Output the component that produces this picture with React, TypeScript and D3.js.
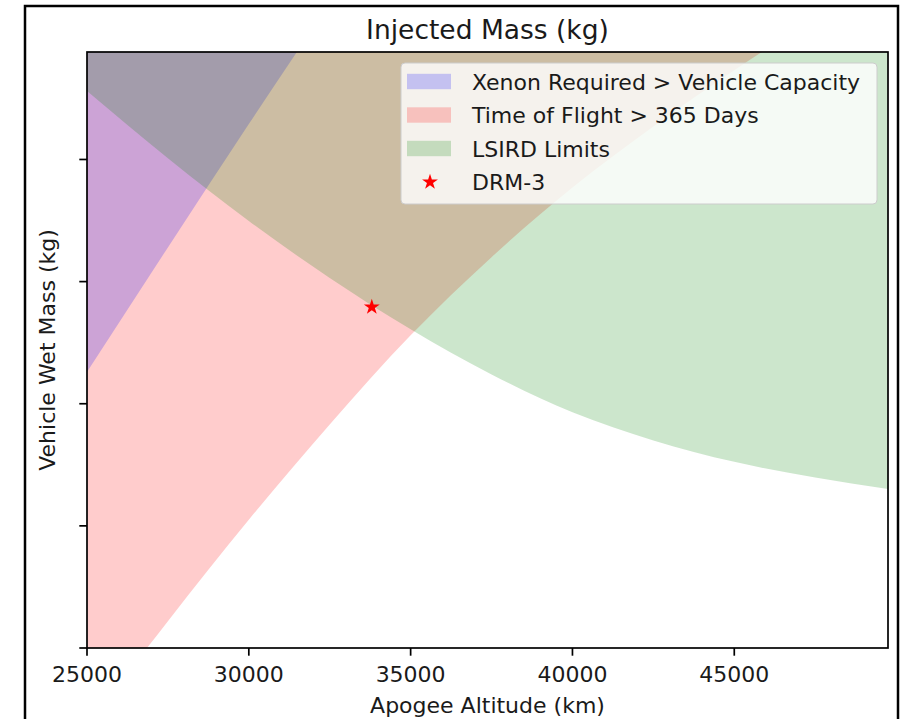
import React from "react";
import * as d3 from "d3";

// Apogee altitude grid (km) and the wet-mass boundaries (kg) of each constraint
const altitude = [25000, 27500, 30000, 32500, 35000, 37500, 40000, 42500, 45000, 47500, 49750];
const lsirdLimit = [3280, 3005, 2748, 2515, 2305, 2120, 1965, 1850, 1762, 1698, 1651];
const tofLimit = [680, 1110, 1525, 1915, 2280, 2600, 2885, 3135, 3365, 3580, 3760];
const xenonAltitude = [25000, 27500, 30000, 32500];
const xenonLimit = [2130, 2640, 3145, 3640];

// Reference design point
const drmAltitude = [33800];
const drmMass = [2396];

const xTicks = [25000, 30000, 35000, 40000, 45000];
const yTicks = [1000, 1500, 2000, 2500, 3000];

const legendLabels = [
  "Xenon Required > Vehicle Capacity",
  "Time of Flight > 365 Days",
  "LSIRD Limits",
  "DRM-3",
];

const W = 907;
const H = 719;
const M = { left: 87, right: 888, top: 52, bottom: 648 };
const FONT = "'DejaVu Sans', 'Liberation Sans', sans-serif";

type Pt = { a: number; m: number };

export default function App() {
  const x = d3.scaleLinear().domain([25000, 49750]).range([M.left, M.right]);
  const y = d3.scaleLinear().domain([1000, 3440]).range([M.bottom, M.top]);
  const yTop = y.domain()[1];

  const area = d3
    .area<Pt>()
    .x((d) => x(d.a))
    .y0((d) => y(d.m))
    .y1(() => y(yTop))
    .curve(d3.curveMonotoneX);

  const lsird: Pt[] = altitude.map((a, i) => ({ a, m: lsirdLimit[i] }));
  const tof: Pt[] = altitude.map((a, i) => ({ a, m: tofLimit[i] }));
  const xenon: Pt[] = xenonAltitude.map((a, i) => ({ a, m: xenonLimit[i] }));

  const star = d3.symbol().type(d3.symbolStar).size(78)();
  const tickLen = 7.7;
  const lg = { x: 401, y: 63, w: 476, h: 141 };
  const rowY = [81.5, 115, 148.5, 182];
  const swatch = [{ c: "#0000ff" }, { c: "#ff0000" }, { c: "#008000" }];

  return (
    <svg
      width={W}
      height={H}
      style={{ position: "absolute", left: 0, top: 0, background: "#fff" }}
      fontFamily={FONT}
    >
      <defs>
        <clipPath id="plot-clip">
          <rect x={M.left} y={M.top} width={M.right - M.left} height={M.bottom - M.top} />
        </clipPath>
      </defs>
      <rect x={0} y={0} width={W} height={H} fill="#fff" />

      <g clipPath="url(#plot-clip)">
        <path d={area(tof) ?? ""} fill="#ff0000" fillOpacity={0.2} />
        <path d={area(xenon) ?? ""} fill="#0000ff" fillOpacity={0.2} />
        <path d={area(lsird) ?? ""} fill="#008000" fillOpacity={0.2} />
        {drmAltitude.map((a, i) => (
          <path key={i} d={star ?? ""} transform={`translate(${x(a)},${y(drmMass[i])})`} fill="#ff0000" />
        ))}
      </g>

      {/* axes frame */}
      <rect
        x={M.left}
        y={M.top}
        width={M.right - M.left}
        height={M.bottom - M.top}
        fill="none"
        stroke="#000"
        strokeWidth={1.7}
      />

      {/* x ticks */}
      {xTicks.map((t) => (
        <g key={t}>
          <line x1={x(t)} x2={x(t)} y1={M.bottom} y2={M.bottom + tickLen} stroke="#000" strokeWidth={1.7} />
          <text x={x(t)} y={682} textAnchor="middle" fontSize={22} fill="#1a1a1a">
            {t}
          </text>
        </g>
      ))}
      {/* y ticks (unlabelled) */}
      {yTicks.map((t) => (
        <line key={t} x1={M.left - tickLen} x2={M.left} y1={y(t)} y2={y(t)} stroke="#000" strokeWidth={1.7} />
      ))}

      <text x={(M.left + M.right) / 2} y={713} textAnchor="middle" fontSize={22} fill="#1a1a1a">
        Apogee Altitude (km)
      </text>
      <text
        transform={`translate(55,${(M.top + M.bottom) / 2}) rotate(-90)`}
        textAnchor="middle"
        fontSize={22}
        fill="#1a1a1a"
      >
        Vehicle Wet Mass (kg)
      </text>
      <text x={(M.left + M.right) / 2} y={39} textAnchor="middle" fontSize={26.5} fill="#1a1a1a">
        Injected Mass (kg)
      </text>

      {/* legend */}
      <rect
        x={lg.x}
        y={lg.y}
        width={lg.w}
        height={lg.h}
        rx={4}
        fill="#fff"
        fillOpacity={0.8}
        stroke="#cccccc"
        strokeWidth={1}
      />
      {swatch.map((s, i) => (
        <rect key={i} x={407} y={rowY[i] - 7.7} width={44} height={15.4} fill={s.c} fillOpacity={0.2} />
      ))}
      <path d={star ?? ""} transform={`translate(430,${rowY[3]})`} fill="#ff0000" />
      {legendLabels.map((l, i) => (
        <text key={l} x={472} y={rowY[i] + 8} fontSize={22} fill="#1a1a1a">
          {l}
        </text>
      ))}

      {/* outer border */}
      <rect x={25} y={6} width={873} height={H + 10} fill="none" stroke="#000" strokeWidth={2.5} />
    </svg>
  );
}
